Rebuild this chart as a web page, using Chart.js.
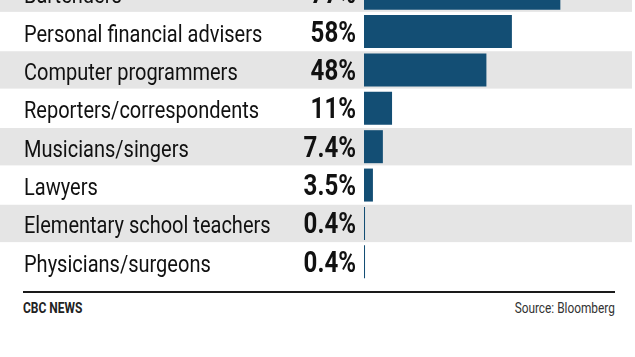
<!DOCTYPE html>
<html>
<head>
<meta charset="utf-8">
<script src="https://cdn.jsdelivr.net/npm/chart.js@4"></script>
<style>
  html, body { margin: 0; padding: 0; background: #ffffff; }
  #wrap { position: relative; width: 635px; height: 357px; overflow: hidden; background: #fff; }
  #chartBox { position: absolute; left: 0; top: -26px; width: 635px; height: 307px; }
  #rule { position: absolute; left: 23px; top: 291px; width: 592px; height: 2px; background: #1a1a1a; }
  .foot { position: absolute; top: 299px; font-family: Roboto, sans-serif; font-size: 15px; color: #222; white-space: nowrap; }
  #left { left: 23px; font-weight: bold; transform: scaleX(0.8); transform-origin: left top; }
  #right { right: 20px; color: #333; transform: scaleX(0.79); transform-origin: right top; }
</style>
</head>
<body>
<div id="wrap">
  <div id="chartBox"><canvas id="c"></canvas></div>
  <div id="rule"></div>
  <div class="foot" id="left">CBC NEWS</div>
  <div class="foot" id="right">Source: Bloomberg</div>
</div>
<script>
const categories = [
  "Bartenders",
  "Personal financial advisers",
  "Computer programmers",
  "Reporters/correspondents",
  "Musicians/singers",
  "Lawyers",
  "Elementary school teachers",
  "Physicians/surgeons"
];
const values = [77, 58, 48, 11, 7.4, 3.5, 0.4, 0.4];
const valueLabels = ["77%", "58%", "48%", "11%", "7.4%", "3.5%", "0.4%", "0.4%"];

const FONT = 'Roboto, sans-serif';
const LABEL_SX = 0.87;
const VALUE_SX = 0.83;

const bandPlugin = {
  id: 'bands',
  beforeDatasetsDraw(chart) {
    const ctx = chart.ctx;
    const y = chart.scales.y;
    const n = categories.length;
    const pitch = (y.bottom - y.top) / n;
    ctx.save();
    ctx.fillStyle = '#e5e5e5';
    for (let i = 0; i < n; i += 2) {
      const cy = y.getPixelForValue(i);
      ctx.fillRect(0, cy - pitch / 2 + 0.5, 632, pitch - 1);
    }
    ctx.restore();
  }
};

const textPlugin = {
  id: 'texts',
  afterDatasetsDraw(chart) {
    const ctx = chart.ctx;
    const y = chart.scales.y;
    const left = chart.chartArea.left;
    ctx.save();
    ctx.textBaseline = 'alphabetic';
    categories.forEach((t, i) => {
      const cy = y.getPixelForValue(i);
      ctx.save();
      ctx.translate(24, cy + 10);
      ctx.scale(LABEL_SX, 1);
      ctx.font = '400 23px ' + FONT;
      ctx.fillStyle = '#111';
      ctx.textAlign = 'left';
      ctx.fillText(t, 0, 0);
      ctx.restore();

      ctx.save();
      ctx.translate(left - 8, cy + 10);
      ctx.scale(VALUE_SX, 1);
      ctx.font = 'bold 29px ' + FONT;
      ctx.fillStyle = '#111';
      ctx.textAlign = 'right';
      ctx.fillText(valueLabels[i], 0, 0);
      ctx.restore();
    });
    ctx.restore();
  }
};

new Chart(document.getElementById('c'), {
  type: 'bar',
  data: {
    labels: categories,
    datasets: [{
      data: values,
      backgroundColor: '#134e74',
      borderWidth: 0,
      barPercentage: 0.86,
      categoryPercentage: 1.0
    }]
  },
  options: {
    indexAxis: 'y',
    responsive: true,
    maintainAspectRatio: false,
    animation: false,
    layout: { padding: { left: 24, right: 16, top: 0, bottom: 0 } },
    plugins: { legend: { display: false }, tooltip: { enabled: false } },
    scales: {
      x: { display: false, min: 0, max: 100 },
      y: {
        grid: { display: false, drawTicks: false },
        border: { display: false },
        ticks: { display: false, padding: 0 },
        afterFit(scale) { scale.width = 340; }
      }
    }
  },
  plugins: [bandPlugin, textPlugin]
});
</script>
</body>
</html>
